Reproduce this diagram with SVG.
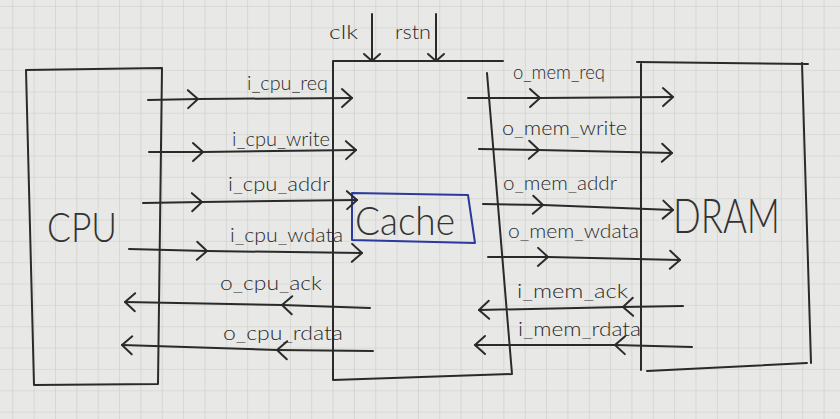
<svg xmlns="http://www.w3.org/2000/svg" width="840" height="419" viewBox="0 0 840 419">
<style>
.ln{fill:none;stroke:#2a2a2a;stroke-width:2;stroke-linecap:round;stroke-linejoin:round}
.bl{fill:none;stroke:#2b3a9c;stroke-width:2;stroke-linejoin:round}
.lbl{font-family:"Lato","Liberation Sans",sans-serif;font-weight:300;font-size:19px;fill:#2a2a2a}
.big{font-family:"Lato","Liberation Sans",sans-serif;font-weight:300;fill:#333}
</style>
<defs>
<pattern id="grid" x="12.3" y="6" width="21.35" height="21.35" patternUnits="userSpaceOnUse">
<path d="M0,0 H21.35 M0,0 V21.35" fill="none" stroke="#cbcbc8" stroke-width="1.2"/>
</pattern>
<marker id="chev" viewBox="-12 -11 14 22" refX="0" refY="0" markerWidth="14" markerHeight="22" markerUnits="userSpaceOnUse" orient="auto" overflow="visible">
<path d="M-10,-9 L0,0 L-10,9" fill="none" stroke="#2a2a2a" stroke-width="2" stroke-linecap="round" stroke-linejoin="round"/>
</marker>
<marker id="dn" viewBox="-10 -10 12 20" refX="0" refY="0" markerWidth="12" markerHeight="20" markerUnits="userSpaceOnUse" orient="auto" overflow="visible">
<path d="M-7,-8 L0,0 L-7,8" fill="none" stroke="#2a2a2a" stroke-width="2" stroke-linecap="round" stroke-linejoin="round"/>
</marker>
</defs>
<rect width="840" height="419" fill="#e8e8e6"/>
<rect width="840" height="419" fill="url(#grid)"/>

<g id="cpu">
<path class="ln" d="M26,70 L162,68 L158,384 L34,385 Z"/>
<text class="big" x="47" y="242" font-size="41" textLength="70" lengthAdjust="spacingAndGlyphs">CPU</text>
</g>

<g id="cache">
<path class="ln" d="M333,61 L503,61 M333,61 L333,380 L512,374 M487,73 L512,374"/>
<path class="bl" d="M352,193 L468,195 L475,243 L352,240 Z"/>
<text class="big" x="355" y="235" font-size="40" textLength="100" lengthAdjust="spacingAndGlyphs" fill="#2a2a2a">Cache</text>
</g>

<g id="dram">
<path class="ln" d="M637,62 L808,64 M641,62 L641,370 M802,63 L811,363 M647,371 L807,363"/>
<text class="big" x="673" y="233" font-size="47" textLength="107" lengthAdjust="spacingAndGlyphs">DRAM</text>
</g>

<g id="connectors">
<path class="ln" d="M372,14 L372,61" marker-end="url(#dn)"/>
<path class="ln" d="M436,14 L436,61" marker-end="url(#dn)"/>
<path class="ln" d="M148,100 L198,99 L352,98" marker-mid="url(#chev)" marker-end="url(#chev)"/>
<path class="ln" d="M149,152 L203,152 L356,150" marker-mid="url(#chev)" marker-end="url(#chev)"/>
<path class="ln" d="M143,203 L202,202 L357,200" marker-mid="url(#chev)" marker-end="url(#chev)"/>
<path class="ln" d="M129,249 L207,251 L362,253" marker-mid="url(#chev)" marker-end="url(#chev)"/>
<path class="ln" d="M370,308 L282,305 L125,302" marker-mid="url(#chev)" marker-end="url(#chev)"/>
<path class="ln" d="M373,351 L277,350 L122,345" marker-mid="url(#chev)" marker-end="url(#chev)"/>
<path class="ln" d="M468,98 L540,98 L673,97" marker-mid="url(#chev)" marker-end="url(#chev)"/>
<path class="ln" d="M479,149 L539,150 L672,153" marker-mid="url(#chev)" marker-end="url(#chev)"/>
<path class="ln" d="M483,204 L543,205 L673,210" marker-mid="url(#chev)" marker-end="url(#chev)"/>
<path class="ln" d="M488,257 L548,257 L680,260" marker-mid="url(#chev)" marker-end="url(#chev)"/>
<path class="ln" d="M683,306 L623,307 L479,310" marker-mid="url(#chev)" marker-end="url(#chev)"/>
<path class="ln" d="M692,347 L615,345 L475,345" marker-mid="url(#chev)" marker-end="url(#chev)"/>
<text class="lbl" x="329" y="39" font-size="22" textLength="29" lengthAdjust="spacingAndGlyphs">clk</text>
<text class="lbl" x="395" y="39" font-size="21" textLength="36" lengthAdjust="spacingAndGlyphs">rstn</text>
<text class="lbl" x="247" y="90" textLength="81" lengthAdjust="spacingAndGlyphs">i_cpu_req</text>
<text class="lbl" x="232" y="146" textLength="98" lengthAdjust="spacingAndGlyphs">i_cpu_write</text>
<text class="lbl" x="228" y="191" textLength="102" lengthAdjust="spacingAndGlyphs">i_cpu_addr</text>
<text class="lbl" x="230" y="242" textLength="113" lengthAdjust="spacingAndGlyphs">i_cpu_wdata</text>
<text class="lbl" x="220" y="290" textLength="102" lengthAdjust="spacingAndGlyphs">o_cpu_ack</text>
<text class="lbl" x="223" y="340" textLength="120" lengthAdjust="spacingAndGlyphs">o_cpu_rdata</text>
<text class="lbl" x="513" y="79" textLength="92" lengthAdjust="spacingAndGlyphs">o_mem_req</text>
<text class="lbl" x="502" y="135" textLength="125" lengthAdjust="spacingAndGlyphs">o_mem_write</text>
<text class="lbl" x="503" y="190" textLength="114" lengthAdjust="spacingAndGlyphs">o_mem_addr</text>
<text class="lbl" x="508" y="238" textLength="131" lengthAdjust="spacingAndGlyphs">o_mem_wdata</text>
<text class="lbl" x="517" y="298" textLength="111" lengthAdjust="spacingAndGlyphs">i_mem_ack</text>
<text class="lbl" x="518" y="336" textLength="123" lengthAdjust="spacingAndGlyphs">i_mem_rdata</text>
</g>
</svg>
